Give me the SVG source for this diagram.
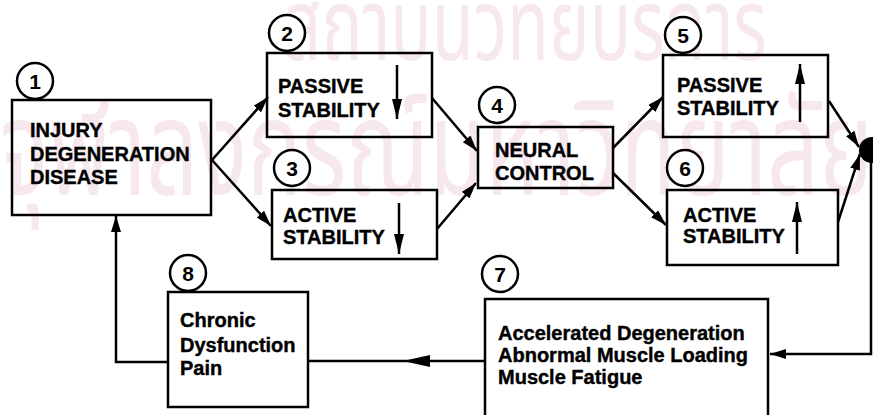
<svg xmlns="http://www.w3.org/2000/svg" width="873" height="415" viewBox="0 0 873 415">
<defs>
<style>
.box{fill:none;stroke:#000;stroke-width:2.5}
.num{fill:#fff;stroke:#000;stroke-width:2.5}
.lbl{font-family:"Liberation Sans",Arial,sans-serif;font-weight:bold;font-size:20px;fill:#000;stroke:#000;stroke-width:0.4}
.dig{font-family:"Liberation Sans",Arial,sans-serif;font-weight:bold;font-size:21px;fill:#000;text-anchor:middle}
.ln{fill:none;stroke:#000;stroke-width:2.5}
.wm{font-family:"Noto Sans Thai","Noto Sans","DejaVu Sans",sans-serif;fill:#f7e7ee}
</style>
<marker id="ah" viewBox="0 0 16 10" refX="16" refY="5" markerWidth="16" markerHeight="10" markerUnits="userSpaceOnUse" orient="auto">
<path d="M0,0 L16,5 L0,10 Z" fill="#000"/>
</marker>
<marker id="ahs" viewBox="0 0 20 10" refX="20" refY="5" markerWidth="20" markerHeight="10" markerUnits="userSpaceOnUse" orient="auto">
<path d="M0,0 L20,5 L0,10 Z" fill="#000"/>
</marker>
</defs>
<rect width="873" height="415" fill="#fff"/>
<g id="watermark">
<text class="wm" x="282" y="60" font-size="100" textLength="485" lengthAdjust="spacingAndGlyphs">สถาบันวิทยบริการ</text>
<text class="wm" x="0" y="195" font-size="135" textLength="873" lengthAdjust="spacingAndGlyphs">จุฬาลงกรณ์มหาวิทยาลัย</text>
</g>
<g id="connectors">
<line class="ln" x1="212" y1="160" x2="268" y2="97" marker-end="url(#ah)"/>
<line class="ln" x1="212" y1="160" x2="271" y2="226" marker-end="url(#ah)"/>
<line class="ln" x1="432" y1="98" x2="477" y2="151" marker-end="url(#ah)"/>
<line class="ln" x1="437" y1="229" x2="476" y2="183" marker-end="url(#ah)"/>
<line class="ln" x1="613" y1="148" x2="663" y2="97" marker-end="url(#ah)"/>
<line class="ln" x1="613" y1="173" x2="666" y2="225" marker-end="url(#ah)"/>
<line class="ln" x1="829" y1="101" x2="859" y2="147" marker-end="url(#ah)"/>
<line class="ln" x1="838" y1="222" x2="860" y2="154" marker-end="url(#ah)"/>
<circle cx="872" cy="150" r="13" fill="#000"/>
<polyline class="ln" points="871,150 871,354 770,354" marker-end="url(#ah)"/>
<line class="ln" x1="485" y1="361" x2="308" y2="361"/>
<path d="M403,361 L430,355 L430,367 Z" fill="#000"/>
<polyline class="ln" points="168,362 116,362 116,216" marker-end="url(#ah)"/>
</g>
<g id="n1">
<rect class="box" x="12" y="100" width="199" height="115"/>
<circle class="num" cx="35" cy="81" r="18"/>
<text class="dig" x="35" y="89">1</text>
<text class="lbl" x="30" y="137">INJURY</text>
<text class="lbl" x="30" y="161">DEGENERATION</text>
<text class="lbl" x="30" y="184">DISEASE</text>
</g>
<g id="n2">
<rect class="box" x="267" y="53" width="165" height="84"/>
<circle class="num" cx="287" cy="33" r="18"/>
<text class="dig" x="287" y="41">2</text>
<text class="lbl" x="278" y="93">PASSIVE</text>
<text class="lbl" x="278" y="117">STABILITY</text>
<line class="ln" x1="397" y1="65" x2="397" y2="119" marker-end="url(#ahs)"/>
</g>
<g id="n3">
<rect class="box" x="272" y="190" width="165" height="69"/>
<circle class="num" cx="292" cy="168" r="18"/>
<text class="dig" x="292" y="176">3</text>
<text class="lbl" x="283" y="222">ACTIVE</text>
<text class="lbl" x="283" y="244">STABILITY</text>
<line class="ln" x1="399" y1="203" x2="399" y2="254" marker-end="url(#ahs)"/>
</g>
<g id="n4">
<rect class="box" x="478" y="127" width="135" height="61"/>
<circle class="num" cx="497" cy="105" r="18"/>
<text class="dig" x="497" y="113">4</text>
<text class="lbl" x="495" y="157">NEURAL</text>
<text class="lbl" x="495" y="180">CONTROL</text>
</g>
<g id="n5">
<rect class="box" x="663" y="55" width="165" height="82"/>
<circle class="num" cx="683" cy="35" r="18"/>
<text class="dig" x="683" y="43">5</text>
<text class="lbl" x="677" y="92">PASSIVE</text>
<text class="lbl" x="677" y="115">STABILITY</text>
<line class="ln" x1="800" y1="122" x2="800" y2="64" marker-end="url(#ahs)"/>
</g>
<g id="n6">
<rect class="box" x="667" y="190" width="171" height="75"/>
<circle class="num" cx="685" cy="168" r="18"/>
<text class="dig" x="685" y="176">6</text>
<text class="lbl" x="683" y="222">ACTIVE</text>
<text class="lbl" x="683" y="243">STABILITY</text>
<line class="ln" x1="797" y1="254" x2="797" y2="202" marker-end="url(#ahs)"/>
</g>
<g id="n7">
<rect class="box" x="485" y="299" width="283" height="140"/>
<circle class="num" cx="500" cy="274" r="18"/>
<text class="dig" x="500" y="282">7</text>
<text class="lbl" x="498" y="340">Accelerated Degeneration</text>
<text class="lbl" x="498" y="362">Abnormal Muscle Loading</text>
<text class="lbl" x="498" y="384">Muscle Fatigue</text>
</g>
<g id="n8">
<rect class="box" x="168" y="292" width="140" height="115"/>
<circle class="num" cx="188" cy="273" r="18"/>
<text class="dig" x="188" y="281">8</text>
<text class="lbl" x="180" y="327">Chronic</text>
<text class="lbl" x="180" y="352">Dysfunction</text>
<text class="lbl" x="180" y="375">Pain</text>
</g>
</svg>
